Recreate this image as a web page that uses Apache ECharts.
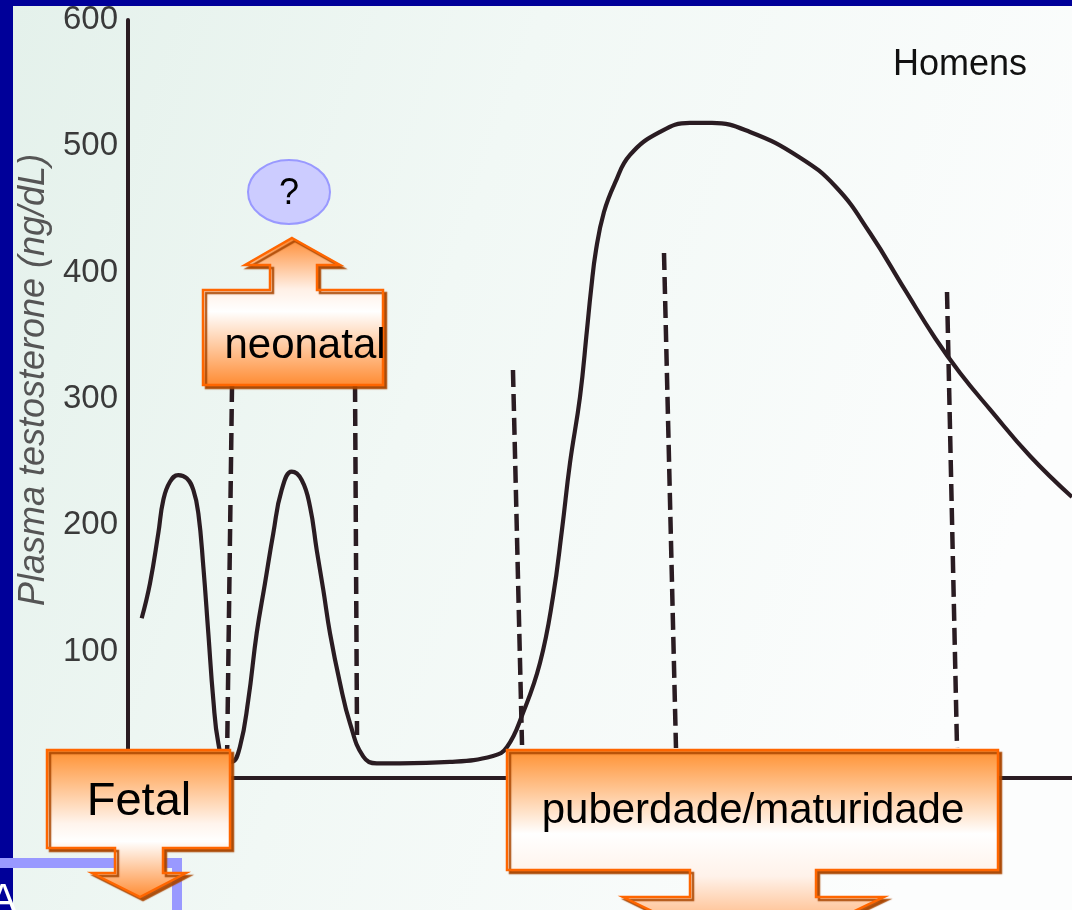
<!DOCTYPE html>
<html>
<head>
<meta charset="utf-8">
<script src="https://cdn.jsdelivr.net/npm/echarts@6/dist/echarts.min.js"></script>
<style>
  html, body { margin: 0; padding: 0; background: #000099; }
  #chart { width: 1072px; height: 910px; }
</style>
</head>
<body>
<div id="chart"></div>
<script>
// curve (x: arbitrary age scale 0-100, y: ng/dL)
var curveAge = [1.45, 2.33, 3.21, 3.74, 4.45, 5.33, 6.22, 6.92, 7.45, 7.98,
    8.51, 9.04, 9.57, 10.28, 10.99, 11.86, 12.74, 13.63, 14.51, 15.39,
    16.28, 17.34, 18.40, 19.28, 19.99, 20.69, 21.40, 22.46, 23.52, 24.93,
    26.35, 28.81, 34.11, 38.67, 40.15, 41.84, 43.64, 45.02, 45.97, 46.82,
    47.88, 48.62, 49.05, 49.58, 50.42, 51.59, 53.18, 56.36, 59.53, 61.86,
    65.89, 71.08, 75.00, 78.60, 82.31, 85.49, 88.14, 91.31, 95.55, 100];
var curveT = [126.4, 154.1, 193.7, 220.1, 234.5, 239.8, 237.2, 228.0, 209.5, 167.3,
    114.5, 61.7, 27.5, 12.9, 12.9, 24.8, 61.7, 114.5, 154.1, 193.7,
    228.0, 242.5, 235.9, 214.8, 180.5, 148.8, 114.5, 75.0, 43.3, 16.9,
    11.6, 11.6, 12.7, 17.4, 24.5, 51.5, 91.0, 143.3, 196.3, 249.3,
    301.6, 354.6, 386.3, 418.0, 448.0, 471.0, 493.2, 511.4, 518.5, 518.5,
    511.4, 491.6, 467.8, 431.4, 386.3, 348.3, 320.6, 291.8, 254.9, 222.4];

// vertical dashed phase limits
var dashTopAge = [11.02, 24.05, 40.78, 56.78, 86.76];
var dashBottomAge = [10.49, 24.26, 41.74, 58.05, 87.82];
var dashTop = [311.1, 311.1, 323.0, 415.6, 384.7];
var dashBottom = [14.2, 34.0, 26.1, 23.7, 23.7];

var yTicks = [0, 100, 200, 300, 400, 500, 600];

var ink = '#2a1c22';
var fontFam = '"Liberation Sans", Arial, sans-serif';

var curveData = curveAge.map(function (a, i) { return [a, curveT[i]]; });

var series = [{
    type: 'line',
    data: curveData,
    smooth: 0.45,
    showSymbol: false,
    lineStyle: { color: ink, width: 4.2 },
    z: 3
}];
for (var i = 0; i < dashTop.length; i++) {
    series.push({
        type: 'line',
        data: [[dashTopAge[i], dashTop[i]], [dashBottomAge[i], dashBottom[i]]],
        showSymbol: false,
        lineStyle: { color: ink, width: 4.5, type: [17, 7] },
        z: 3
    });
}

// orange callout arrows (slide annotations)
function orangeFill(stops) {
    return {
        type: 'linear', x: 0, y: 0, x2: 0, y2: 1,
        colorStops: stops.map(function (s) { return { offset: s[0], color: s[1] }; })
    };
}
var calloutStyle = function (stops) {
    return {
        fill: orangeFill(stops),
        stroke: '#ff6600',
        lineWidth: 2.5,
        shadowBlur: 1,
        shadowColor: 'rgba(170,70,0,0.9)',
        shadowOffsetX: 3,
        shadowOffsetY: 3
    };
};

var graphics = [
    { type: 'rect', z: -10, silent: true,
      shape: { x: 13, y: 6, width: 1059, height: 904 },
      style: { fill: { type: 'linear', x: 0, y: 0, x2: 1, y2: 0.4,
        colorStops: [{ offset: 0, color: '#e4f1eb' }, { offset: 0.45, color: '#f1f8f5' }, { offset: 1, color: '#fcfdfd' }] } } },
    // slide frame on top of the scan
    { type: 'rect', z: 48, shape: { x: 0, y: 0, width: 1072, height: 6 }, style: { fill: '#000099' } },
    { type: 'rect', z: 48, shape: { x: 0, y: 0, width: 13, height: 910 }, style: { fill: '#000099' } },
    { type: 'rect', z: 50, shape: { x: 0, y: 858, width: 182, height: 10 }, style: { fill: '#9999ff' } },
    { type: 'rect', z: 50, shape: { x: 172, y: 858, width: 10, height: 52 }, style: { fill: '#9999ff' } },
    { type: 'text', z: 51, x: 3, y: 880,
      style: { text: 'A', fontSize: 42, fontFamily: fontFam, fill: '#ffffff', align: 'center', verticalAlign: 'top' } },
    // Fetal
    { type: 'polygon', z: 60,
      shape: { points: [[47, 750], [230, 750], [230, 848], [163, 848], [163, 873], [186, 873], [140, 897], [92, 873], [115, 873], [115, 848], [47, 848]] },
      style: calloutStyle([[0, '#ff8f2e'], [0.5, '#fff4ec'], [0.62, '#ffffff'], [1, '#ff8a30']]) },
    { type: 'text', z: 61, x: 139, y: 802,
      style: { text: 'Fetal', fontSize: 47, fontFamily: fontFam, fill: '#000', align: 'center', verticalAlign: 'middle' } },
    // neonatal
    { type: 'polygon', z: 60,
      shape: { points: [[292, 238], [340, 265], [317, 265], [317, 290], [383, 290], [383, 385], [203, 385], [203, 290], [270, 290], [270, 265], [245, 265]] },
      style: calloutStyle([[0, '#ff8a30'], [0.35, '#fff0e6'], [0.5, '#ffffff'], [1, '#ff8a30']]) },
    { type: 'text', z: 61, x: 305, y: 346,
      style: { text: 'neonatal', fontSize: 42, fontFamily: fontFam, fill: '#000', align: 'center', verticalAlign: 'middle' } },
    // puberdade / maturidade
    { type: 'polygon', z: 60,
      shape: { points: [[507, 750], [998, 750], [998, 870], [816, 870], [816, 897], [884, 897], [752, 960], [623, 897], [690, 897], [690, 870], [507, 870]] },
      style: calloutStyle([[0, '#ff8f2e'], [0.4, '#ffffff'], [0.6, '#fff2ea'], [1, '#ff8a30']]) },
    { type: 'text', z: 61, x: 753, y: 811,
      style: { text: 'puberdade/maturidade', fontSize: 42, fontFamily: fontFam, fill: '#000', align: 'center', verticalAlign: 'middle' } },
    // question bubble
    { type: 'ellipse', z: 60, shape: { cx: 289, cy: 192, rx: 41, ry: 32 },
      style: { fill: '#ccccff', stroke: '#9999ff', lineWidth: 2 } },
    { type: 'text', z: 61, x: 289, y: 194,
      style: { text: '?', fontSize: 36, fontFamily: fontFam, fill: '#000', align: 'center', verticalAlign: 'middle' } },
    { type: 'text', z: 61, x: 960, y: 65,
      style: { text: 'Homens', fontSize: 36, fontFamily: fontFam, fill: '#111', align: 'center', verticalAlign: 'middle' } }
];

var myChart = echarts.init(document.getElementById('chart'));
myChart.setOption({
    backgroundColor: '#000099',
    animation: false,
    grid: { left: 128, right: 0, top: 20, bottom: 132, containLabel: false },
    xAxis: {
        type: 'value', min: 0, max: 100,
        axisLine: { show: true, onZero: false, lineStyle: { color: ink, width: 4 } },
        axisTick: { show: false }, axisLabel: { show: false }, splitLine: { show: false }
    },
    yAxis: {
        type: 'value', min: yTicks[0], max: yTicks[yTicks.length - 1], interval: 100,
        name: 'Plasma testosterone (ng/dL)',
        nameLocation: 'middle', nameRotate: 90, nameGap: 76,
        nameTextStyle: { fontStyle: 'italic', fontSize: 36, color: '#555', fontFamily: fontFam, padding: [0, 0, 0, 38] },
        axisLine: { show: true, lineStyle: { color: ink, width: 4 } },
        axisTick: { show: false }, splitLine: { show: false },
        axisLabel: { fontSize: 33, color: '#3a3a3a', fontFamily: fontFam, margin: 10, showMinLabel: false,
            formatter: function (v) { return v === 0 ? '' : String(v); } }
    },
    series: series,
    graphic: graphics
});
</script>
</body>
</html>
